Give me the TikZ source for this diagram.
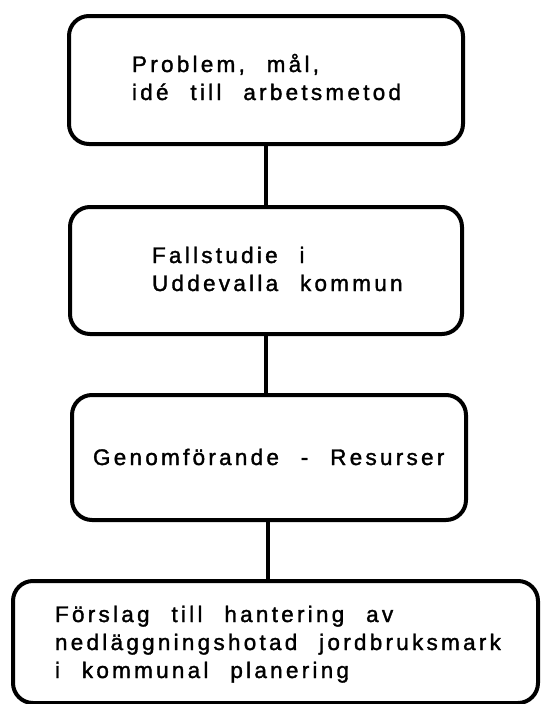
\documentclass[tikz,border=0pt]{standalone}
\usepackage{fontspec}
\newfontfamily\lbl[LetterSpace=14.5,WordSpace=2.3,FakeBold=1.5]{Liberation Sans}
\tikzset{
  box/.style={draw=black, line width=4pt, rounded corners=20pt, inner sep=0pt, outer sep=0pt},
  lbltext/.style={anchor=base west, align=left, inner sep=0pt, outer sep=0pt,
    font=\lbl\fontsize{22.5}{28}\selectfont, text=black},
  link/.style={draw=black, line width=4pt}
}
\begin{document}
\begin{tikzpicture}[x=1pt,y=-1pt]
\useasboundingbox (0,0) rectangle (541,704);
\fill[white] (0,0) rectangle (541,704);
\node[box, minimum width=394pt, minimum height=128pt] (b1) at (266,80) {};
\node[box, minimum width=392pt, minimum height=127pt] (b2) at (266,270.5) {};
\node[box, minimum width=394pt, minimum height=125pt] (b3) at (269,457.5) {};
\node[box, minimum width=525pt, minimum height=122pt] (b4) at (275.5,642) {};
\node[lbltext] (t1) at (132,100) {Problem, mål,\\idé till arbetsmetod};
\node[lbltext] (t2) at (152,291) {Fallstudie i\\Uddevalla kommun};
\node[lbltext] (t3) at (93,465) {Genomförande - Resurser};
\node[lbltext] (t4) at (55,678) {Förslag till hantering av\\nedläggningshotad jordbruksmark\\i kommunal planering};
\draw[link] (b1.south) -- (b2.north);
\draw[link] (b2.south) -- (b2.south |- b3.north);
\draw[link] ([xshift=-1pt]b3.south) -- ([xshift=-1pt]b3.south |- b4.north);
\end{tikzpicture}
\end{document}
